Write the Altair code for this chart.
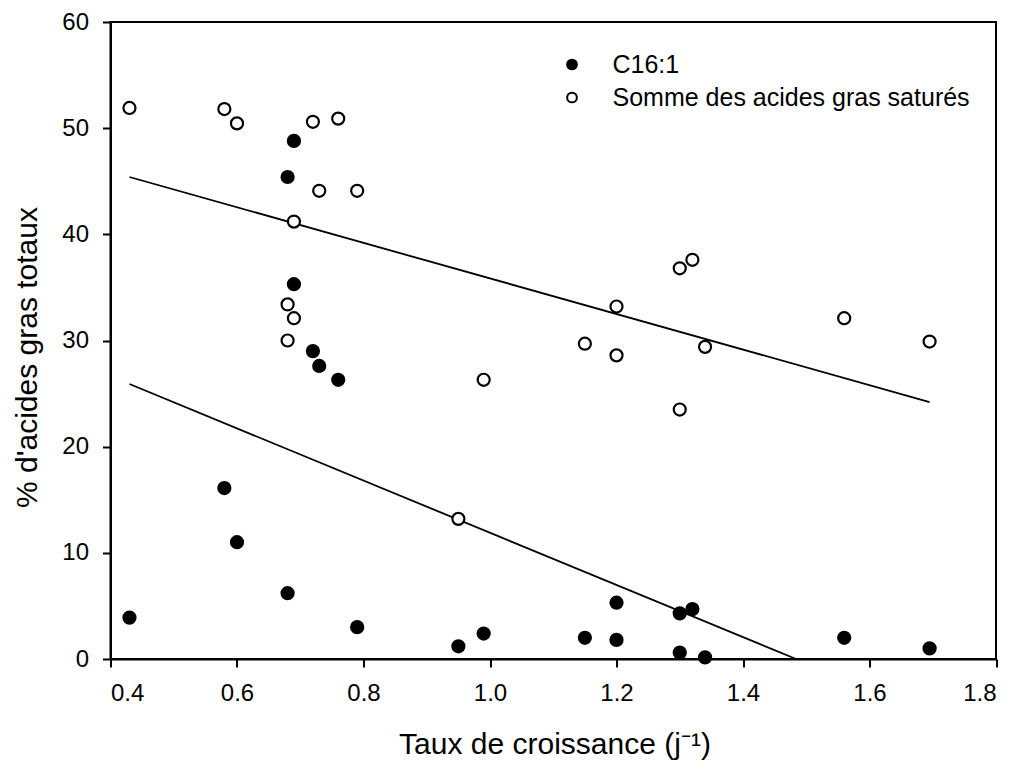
import altair as alt
import pandas as pd

# C16:1 (filled)
c16_x = [0.43, 0.58, 0.60, 0.68, 0.69, 0.68, 0.69, 0.72, 0.73, 0.76, 0.79, 0.95, 0.99,
         1.15, 1.20, 1.20, 1.30, 1.32, 1.30, 1.34, 1.56, 1.695]
c16_y = [3.9, 16.1, 11.0, 6.2, 48.8, 45.4, 35.3, 29.0, 27.6, 26.3, 3.0, 1.2, 2.4,
         2.0, 5.3, 1.8, 4.3, 4.7, 0.6, 0.15, 2.0, 1.0]

# Somme des acides gras saturés (open)
sat_x = [0.43, 0.58, 0.60, 0.72, 0.76, 0.73, 0.79, 0.69, 0.68, 0.69, 0.68, 0.95, 0.99,
         1.15, 1.20, 1.20, 1.30, 1.32, 1.34, 1.30, 1.56, 1.695]
sat_y = [51.9, 51.8, 50.45, 50.6, 50.9, 44.1, 44.1, 41.2, 33.4, 32.1, 30.0, 13.2, 26.3,
         29.7, 33.2, 28.6, 36.8, 37.6, 29.4, 23.5, 32.1, 29.9]

# Fitted regression lines (end points)
fit_c16_x = [0.43, 1.484]
fit_c16_y = [25.9, 0.0]
fit_sat_x = [0.43, 1.695]
fit_sat_y = [45.4, 24.2]

S1 = "C16:1"
S2 = "Somme des acides gras saturés"

pts = pd.DataFrame({
    "x": c16_x + sat_x,
    "y": c16_y + sat_y,
    "serie": [S1] * len(c16_x) + [S2] * len(sat_x),
})
lines = pd.DataFrame({
    "x": fit_c16_x + fit_sat_x,
    "y": fit_c16_y + fit_sat_y,
    "serie": [S1] * 2 + [S2] * 2,
})

FONT = "Liberation Sans, Arial, sans-serif"

xs = alt.Scale(domain=[0.4, 1.8], nice=False, zero=False)
ys = alt.Scale(domain=[0, 60], nice=False)

line_layer = alt.Chart(lines).mark_line(color="black", strokeWidth=1.8).encode(
    x=alt.X("x:Q", scale=xs),
    y=alt.Y("y:Q", scale=ys),
    detail="serie:N",
)

point_layer = alt.Chart(pts).mark_point(
    filled=True, shape="circle", size=145, stroke="black", strokeWidth=2.2, opacity=1
).encode(
    x=alt.X("x:Q", scale=xs,
            axis=alt.Axis(values=[0.4, 0.6, 0.8, 1.0, 1.2, 1.4, 1.6, 1.8], format=".1f",
                          title="Taux de croissance (j⁻¹)", grid=False,
                          titleBaseline="alphabetic", titleY=94, titleX=444)),
    y=alt.Y("y:Q", scale=ys,
            axis=alt.Axis(values=[0, 10, 20, 30, 40, 50, 60],
                          title="% d'acides gras totaux", grid=False,
                          titleBaseline="alphabetic", titleX=-74, titleY=335)),
    fill=alt.Fill("serie:N",
                  scale=alt.Scale(domain=[S1, S2], range=["black", "white"]),
                  legend=alt.Legend(title=None, orient="none", legendX=449, legendY=30,
                                    padding=0, symbolType="circle", symbolSize=95,
                                    symbolStrokeColor="black", symbolStrokeWidth=2,
                                    labelFont=FONT, labelFontSize=25,
                                    labelColor="#000", labelOffset=28, rowPadding=7,
                                    labelLimit=500)),
)

chart = (line_layer + point_layer).properties(
    width=885.5, height=637,
    autosize=alt.AutoSizeParams(type="none"),
    padding={"left": 102.5, "top": 14, "right": 5, "bottom": 110},
).configure_view(
    stroke="black", strokeWidth=2
).configure_axis(
    domainColor="black", domainWidth=2, tickColor="black", tickWidth=2, tickSize=8,
    labelFont=FONT, labelFontSize=24, labelColor="#000",
    titleFont=FONT, titleFontSize=30, titleFontWeight="normal",
    titleColor="#000",
).configure_axisX(
    labelPadding=14
).configure_axisY(
    labelPadding=14
)

chart.save("out.html", embed_options={"renderer": "svg", "actions": False})
